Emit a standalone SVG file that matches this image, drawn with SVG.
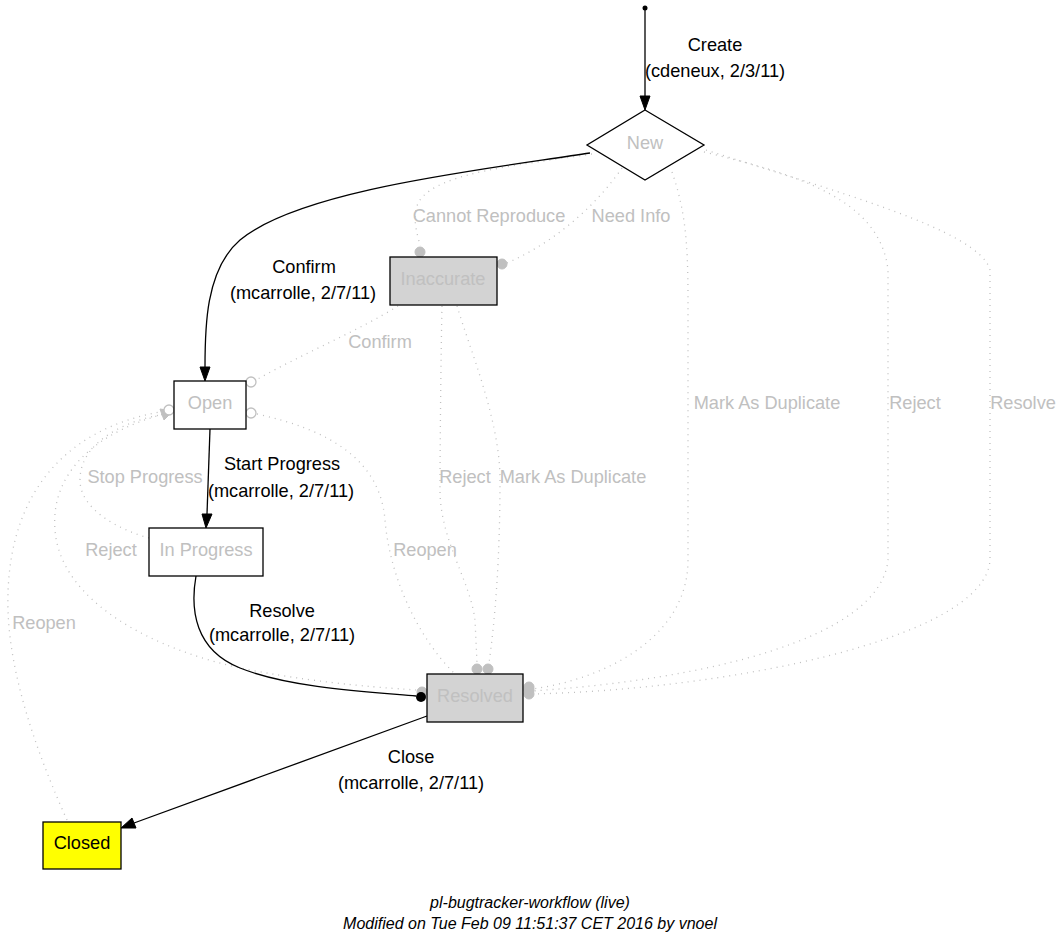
<svg xmlns="http://www.w3.org/2000/svg" width="1061" height="947" viewBox="0 0 1061 947">
<style>
text{font-family:"Liberation Sans",Arial,sans-serif;font-size:18.2px;text-anchor:middle}
.g{fill:#c0c0c0}
.k{fill:#000}
.node{stroke:#000;stroke-width:1.3}
.solid{fill:none;stroke:#000;stroke-width:1.3}
.dot{fill:none;stroke:#c0c0c0;stroke-width:1.3;stroke-dasharray:1,5}
.gd{fill:#c0c0c0;stroke:#c0c0c0}
.od{fill:#fff;stroke:#c0c0c0;stroke-width:1.3}
.foot{font-size:16px;font-style:italic}
</style>
<rect width="1061" height="947" fill="#fff"/>
<g id="connectors">
  <!-- dotted gray edges -->
  <path class="dot" d="M592,154 C520,165 440,172 420,200 C410,215 418,235 420,246"/>
  <path class="dot" d="M622,168 C600,200 560,240 507,263"/>
  <path class="dot" d="M398,306 C360,330 300,355 256,380"/>
  <path class="dot" d="M672,172 C685,210 688,240 688,300 L688,560 C688,640 600,680 532,689"/>
  <path class="dot" d="M704,152 C800,175 880,200 888,270 L888,560 C880,640 700,680 532,691"/>
  <path class="dot" d="M706,150 C830,190 980,230 990,270 L990,560 C985,640 720,690 532,694"/>
  <path class="dot" d="M442,306 C441,350 440,450 440,490 C440,540 470,580 475,620 L477,663"/>
  <path class="dot" d="M457,306 C470,350 500,420 500,480 C500,560 495,620 489,663"/>
  <path class="dot" d="M257,414 C330,430 380,460 385,520 C390,580 420,640 455,674"/>
  <path class="dot" d="M168,413 C100,430 50,470 55,530 C60,600 150,650 250,670 C330,685 390,688 416,690"/>
  <path class="dot" d="M149,538 C120,530 80,510 80,480 C80,440 130,420 160,415"/>
  <path class="dot" d="M67,820 C40,760 10,680 8,610 C5,500 60,430 160,412"/>
  <!-- gray end markers -->
  <circle class="gd" cx="420" cy="252" r="5"/>
  <circle class="gd" cx="502" cy="264" r="5"/>
  <circle class="gd" cx="477" cy="669" r="5"/>
  <circle class="gd" cx="488" cy="669" r="5"/>
  <circle class="gd" cx="529" cy="687" r="5"/>
  <circle class="gd" cx="529" cy="690" r="5"/>
  <circle class="gd" cx="529" cy="694" r="5"/>
  <circle class="gd" cx="422" cy="692" r="5"/>
  <circle class="od" cx="251" cy="382" r="5"/>
  <circle class="od" cx="251" cy="413" r="5"/>
  <polygon class="gd" points="160,409 173,411 164,420"/>
  <circle class="od" cx="169" cy="410" r="5"/>
  <!-- solid black edges -->
  <circle cx="645" cy="8" r="2.5" fill="#000"/>
  <path class="solid" d="M645,8 L645,96"/>
  <polygon points="640,96 650,96 645,110" fill="#000" stroke="#000"/>
  <path class="solid" d="M590,153 C480,170 300,190 240,240 C205,270 205,330 205,367"/>
  <polygon points="200,367 210,367 205,381" fill="#000" stroke="#000"/>
  <path class="solid" d="M210,429 L207,514"/>
  <polygon points="202,514 212,514 206,528" fill="#000" stroke="#000"/>
  <path class="solid" d="M196,576 C190,610 195,650 240,668 C290,688 370,692 416,696"/>
  <circle cx="421" cy="697" r="5" fill="#000"/>
  <path class="solid" d="M427,716 L134,823"/>
  <polygon points="132,818 136,828 121,828" fill="#000" stroke="#000"/>
</g>
<g id="labels">
  <text class="k" x="715" y="51">Create</text>
  <text class="k" x="715" y="77">(cdeneux, 2/3/11)</text>
  <text class="k" x="304" y="273">Confirm</text>
  <text class="k" x="303" y="299">(mcarrolle, 2/7/11)</text>
  <text class="k" x="282" y="470">Start Progress</text>
  <text class="k" x="281" y="497">(mcarrolle, 2/7/11)</text>
  <text class="k" x="282" y="617">Resolve</text>
  <text class="k" x="282" y="641">(mcarrolle, 2/7/11)</text>
  <text class="k" x="411" y="763">Close</text>
  <text class="k" x="411" y="789">(mcarrolle, 2/7/11)</text>
  <text class="g" x="489" y="222">Cannot Reproduce</text>
  <text class="g" x="631" y="222">Need Info</text>
  <text class="g" x="380" y="348">Confirm</text>
  <text class="g" x="767" y="409">Mark As Duplicate</text>
  <text class="g" x="915" y="409">Reject</text>
  <text class="g" x="1023" y="409">Resolve</text>
  <text class="g" x="145" y="483">Stop Progress</text>
  <text class="g" x="465" y="483">Reject</text>
  <text class="g" x="573" y="483">Mark As Duplicate</text>
  <text class="g" x="111" y="556">Reject</text>
  <text class="g" x="425" y="556">Reopen</text>
  <text class="g" x="44" y="629">Reopen</text>
</g>
<g id="node-new">
  <polygon class="node" fill="#fff" points="645,110 704,145 645,180 587,145"/>
  <text class="g" x="645" y="149">New</text>
</g>
<g id="node-inaccurate">
  <rect class="node" fill="#d3d3d3" x="390" y="257" width="107" height="48"/>
  <text class="g" x="443" y="285">Inaccurate</text>
</g>
<g id="node-open">
  <rect class="node" fill="#fff" x="174" y="381" width="72" height="48"/>
  <text class="g" x="210" y="409">Open</text>
</g>
<g id="node-inprogress">
  <rect class="node" fill="#fff" x="149" y="528" width="114" height="48"/>
  <text class="g" x="206" y="556">In Progress</text>
</g>
<g id="node-resolved">
  <rect class="node" fill="#d3d3d3" x="427" y="674" width="96" height="48"/>
  <text class="g" x="475" y="702">Resolved</text>
</g>
<g id="node-closed">
  <rect class="node" fill="#ffff00" x="43" y="822" width="78" height="47"/>
  <text class="k" x="82" y="849">Closed</text>
</g>
<g id="footer">
  <text class="foot" x="530" y="908">pl-bugtracker-workflow (live)</text>
  <text class="foot" x="530" y="929">Modified on Tue Feb 09 11:51:37 CET 2016 by vnoel</text>
</g>
</svg>
